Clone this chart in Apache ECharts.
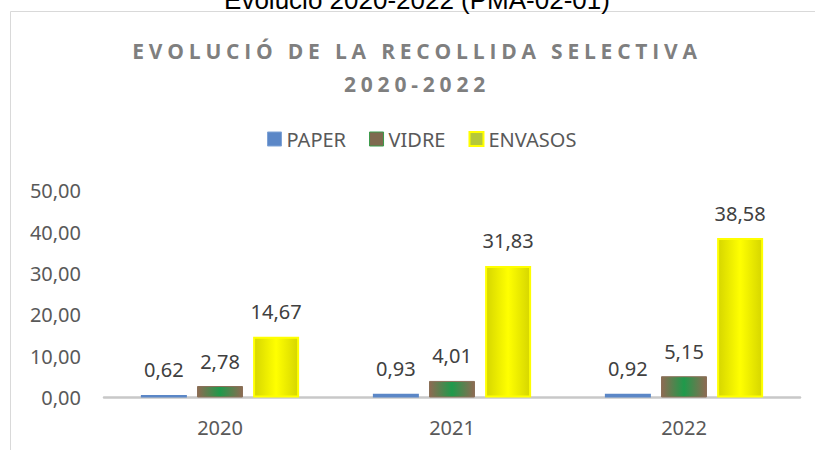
<!DOCTYPE html>
<html>
<head>
<meta charset="utf-8">
<script src="https://cdn.jsdelivr.net/npm/echarts@6/dist/echarts.min.js"></script>
<style>
html,body{margin:0;padding:0;background:#fff;}
#chart{width:815px;height:450px;}
</style>
</head>
<body>
<div id="chart"></div>
<script>
const pageTitle = 'Evolució 2020-2022 (PMA-02-01)';
const chartTitle = 'EVOLUCIÓ DE LA RECOLLIDA SELECTIVA\n2020-2022';
const categories = ['2020', '2021', '2022'];
const paper = [0.62, 0.93, 0.92];
const vidre = [2.78, 4.01, 5.15];
const envasos = [14.67, 31.83, 38.58];
const seriesNames = ['PAPER', 'VIDRE', 'ENVASOS'];
const yTicks = [0, 10, 20, 30, 40, 50];

const fmt = v => Number(v).toFixed(2).replace('.', ',');
const FONT = 'Noto Sans';

const chart = echarts.init(document.getElementById('chart'), null, {renderer: 'svg'});

const hGrad = (edge, mid) => ({
  type: 'linear', x: 0, y: 0, x2: 1, y2: 0,
  colorStops: [{offset: 0, color: edge}, {offset: 0.5, color: mid}, {offset: 1, color: edge}]
});

const labelCfg = {
  show: true, position: 'top', distance: 15,
  formatter: p => fmt(p.value),
  color: '#404040', fontFamily: FONT, fontSize: 20
};

chart.setOption({
  animation: false,
  graphic: [
    {type: 'rect', shape: {x: 10.5, y: 11.5, width: 900, height: 600},
     style: {fill: 'none', stroke: '#d9d9d9', lineWidth: 1}, silent: true},
    {type: 'text', x: 417, y: 0,
     style: {text: pageTitle, fill: '#000', font: '26px "Liberation Sans", Arial, sans-serif',
             textAlign: 'center', textVerticalAlign: 'middle'}}
  ],
  title: {
    text: chartTitle, left: 'center', top: 29,
    textStyle: {fontFamily: 'Open Sans', fontWeight: 'bold', fontSize: 21, color: '#7f7f7f', lineHeight: 33}
  },
  legend: {
    left: 262, top: 124, itemWidth: 14, itemHeight: 14, itemGap: 23,
    icon: 'rect',
    textStyle: {fontFamily: FONT, fontSize: 20, color: '#595959'},
    data: [
      {name: seriesNames[0], itemStyle: {color: '#5b87c7', borderColor: '#7fa3d6', borderWidth: 1}},
      {name: seriesNames[1], itemStyle: {color: '#7f6a4f', borderColor: '#3a9a4a', borderWidth: 1}},
      {name: seriesNames[2], itemStyle: {color: '#b5c83a', borderColor: '#ffff00', borderWidth: 2}}
    ]
  },
  grid: {left: 104, right: 15, top: 190.8, bottom: 52.5},
  xAxis: {
    type: 'category', data: categories,
    axisLine: {show: true, lineStyle: {color: '#c8c8c8', width: 2.5}},
    axisTick: {show: false},
    axisLabel: {fontFamily: FONT, fontSize: 20, color: '#595959', margin: 20}
  },
  yAxis: {
    type: 'value', min: yTicks[0], max: yTicks[yTicks.length - 1], interval: 10,
    axisLine: {show: false}, axisTick: {show: false}, splitLine: {show: false},
    axisLabel: {fontFamily: FONT, fontSize: 20, color: '#595959', margin: 23, formatter: v => fmt(v)}
  },
  series: [
    {name: seriesNames[0], type: 'bar', data: paper, barWidth: 46, barGap: '22%',
     itemStyle: {color: '#5b87c7'}, label: labelCfg},
    {name: seriesNames[1], type: 'bar', data: vidre, barWidth: 46, barGap: '22%',
     itemStyle: {color: hGrad('#8e6a52', '#1f9a4b'), borderColor: '#8a7058', borderWidth: 1}, label: labelCfg},
    {name: seriesNames[2], type: 'bar', data: envasos, barWidth: 46, barGap: '22%',
     itemStyle: {color: hGrad('#d6d600', '#ffff00'), borderColor: '#ffff00', borderWidth: 2}, label: labelCfg}
  ]
});

function spaceTitle() {
  document.querySelectorAll('#chart text').forEach(t => {
    const s = t.textContent;
    if ((s.indexOf('EVOLUCIÓ DE LA') === 0 || s === '2020-2022') && !t.dataset.sp) {
      t.dataset.sp = '1';
      t.style.letterSpacing = '4.8px';
      t.setAttribute('transform', (t.getAttribute('transform') || '') + ' translate(9.5,0)');
    }
  });
}
spaceTitle();
chart.on('finished', spaceTitle);
</script>
</body>
</html>
